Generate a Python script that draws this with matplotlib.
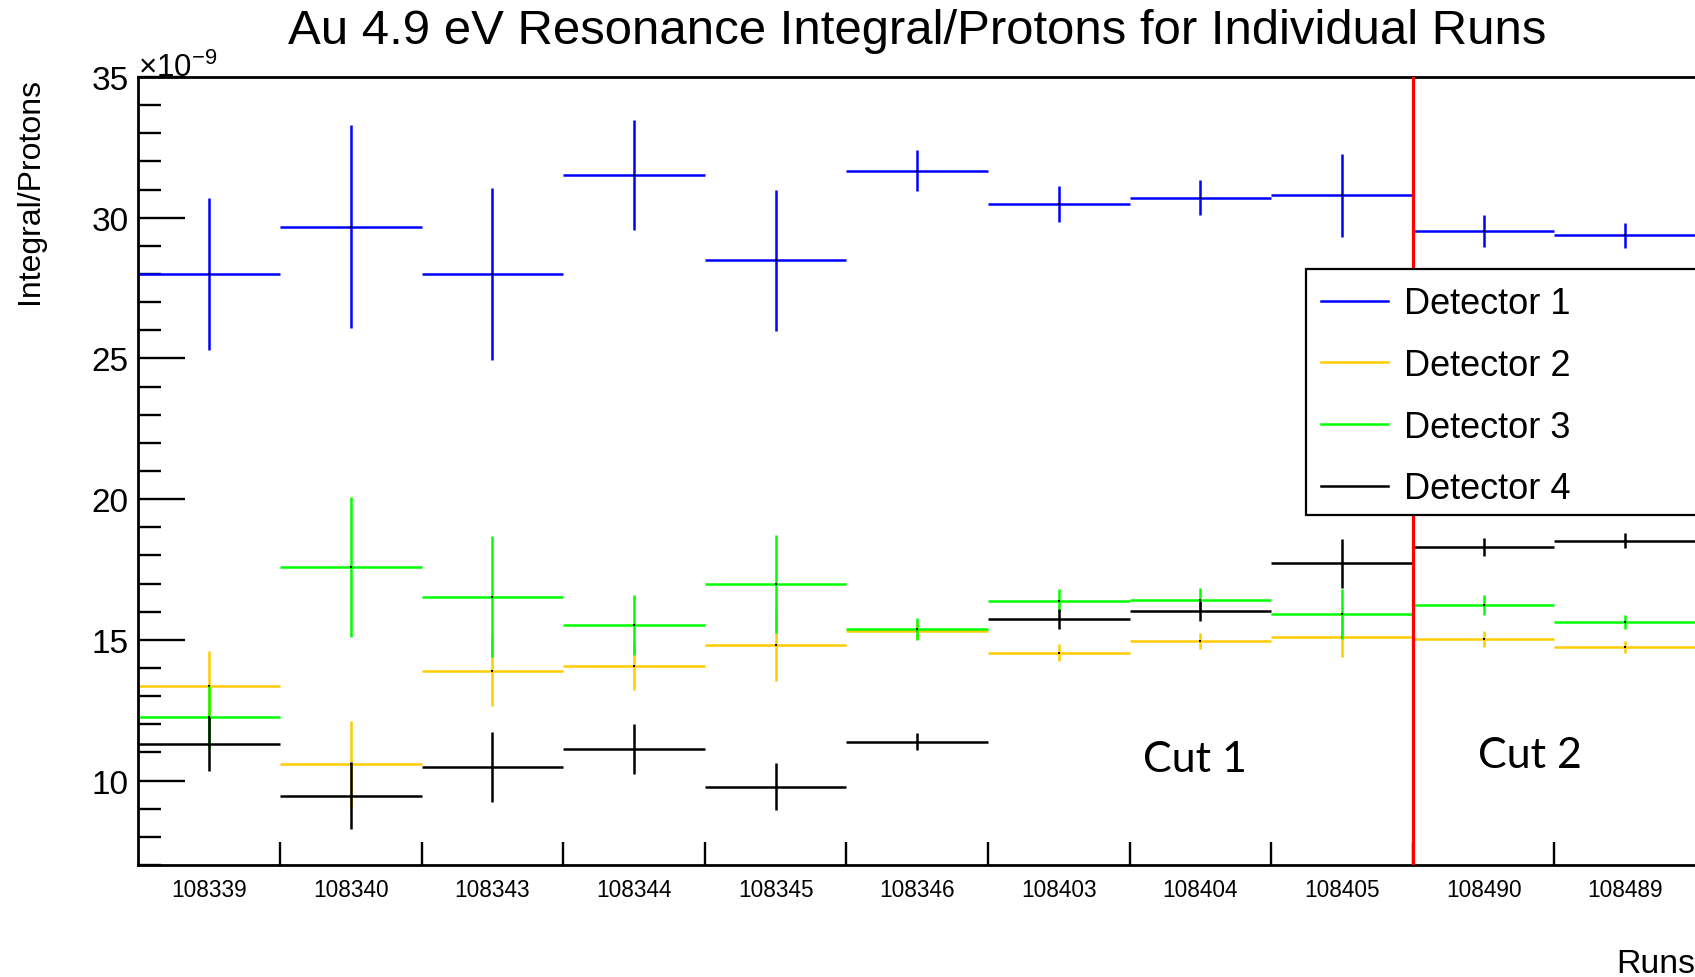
import matplotlib
matplotlib.use('Agg')
import matplotlib.pyplot as plt
from matplotlib.patches import Rectangle
from matplotlib.lines import Line2D
from matplotlib.ticker import FixedLocator, NullFormatter, FixedFormatter, MultipleLocator

plt.rcParams['font.family'] = ['Liberation Sans', 'DejaVu Sans']
plt.rcParams['mathtext.fontset'] = 'custom'
plt.rcParams['mathtext.rm'] = 'Liberation Sans'
plt.rcParams['mathtext.it'] = 'Liberation Sans:italic'
plt.rcParams['mathtext.bf'] = 'Liberation Sans:bold'

# ---- data (values in units of 1e-9) ----
runs = ['108339', '108340', '108343', '108344', '108345', '108346',
        '108403', '108404', '108405', '108490', '108489']
det1 = [28.0, 29.68, 28.0, 31.52, 28.49, 31.67, 30.48, 30.71, 30.79, 29.53, 29.37]
det1_err = [2.7, 3.6, 3.05, 1.95, 2.5, 0.73, 0.65, 0.63, 1.47, 0.58, 0.44]
det2 = [13.36, 10.58, 13.89, 14.07, 14.82, 15.33, 14.54, 14.95, 15.09, 15.02, 14.75]
det2_err = [1.24, 1.54, 1.24, 0.86, 1.29, 0.3, 0.3, 0.28, 0.71, 0.28, 0.2]
det3 = [12.26, 17.6, 16.54, 15.53, 16.99, 15.39, 16.39, 16.43, 15.92, 16.24, 15.62]
det3_err = [1.1, 2.49, 2.14, 1.06, 1.74, 0.38, 0.4, 0.4, 0.88, 0.36, 0.25]
det4 = [11.3, 9.46, 10.49, 11.13, 9.78, 11.38, 15.74, 16.03, 17.72, 18.3, 18.52]
det4_err = [0.95, 1.19, 1.25, 0.89, 0.84, 0.3, 0.34, 0.35, 0.88, 0.33, 0.27]
labels = ['Detector 1', 'Detector 2', 'Detector 3', 'Detector 4']
colors = ['#0000FF', '#FFCC00', '#00FF00', '#000000']
cut_edge = 9  # bin edge index where the cut changes
cut_labels = ['Cut 1', 'Cut 2']

W, H = 1695, 978
fig = plt.figure(figsize=(W / 100, H / 100), dpi=100)

def fx(x):
    return x / W

def fy(y):
    return 1 - y / H

ax_l, ax_r, ax_t, ax_b = 138.4, 1696.0, 78.0, 866.0
ax = fig.add_axes([fx(ax_l), fy(ax_b), fx(ax_r - ax_l), (ax_b - ax_t) / H])

n = len(runs)
centers = [i + 0.5 for i in range(n)]
series = [(det1, det1_err), (det2, det2_err), (det3, det3_err), (det4, det4_err)]
for (vals, errs), c in zip(series, colors):
    ax.errorbar(centers, vals, xerr=0.5, yerr=errs, fmt='none', ecolor=c,
                elinewidth=1.8, capsize=0)
    ax.plot(centers, vals, linestyle='none', marker='s', ms=1.7, color='k', mew=0)

ax.axvline(cut_edge, color='#FF0000', lw=2.3, zorder=3)

ax.set_xlim(0, n)
ax.set_ylim(7.0, 35.0)

# spines
for s in ['left', 'bottom', 'top']:
    ax.spines[s].set_linewidth(2.0)
ax.spines['right'].set_visible(False)

# y ticks
ax.yaxis.set_major_locator(FixedLocator([10, 15, 20, 25, 30, 35]))
ax.yaxis.set_minor_locator(MultipleLocator(1))
ax.tick_params(axis='y', which='major', direction='in', length=34, width=1.7,
               labelsize=24, pad=7)
ax.tick_params(axis='y', which='minor', direction='in', length=16.5, width=1.7)

# x ticks: marks at bin edges, labels at bin centres
ax.xaxis.set_major_locator(FixedLocator(list(range(1, n))))
ax.xaxis.set_major_formatter(NullFormatter())
ax.xaxis.set_minor_locator(FixedLocator(centers))
ax.xaxis.set_minor_formatter(FixedFormatter(runs))
ax.tick_params(axis='x', which='major', direction='in', length=16.5, width=1.7)
ax.tick_params(axis='x', which='minor', length=0, labelsize=16.3, pad=9.5)

# texts
fig.text(fx(917), fy(32), 'Au 4.9 eV Resonance Integral/Protons for Individual Runs',
         ha='center', va='center', fontsize=35.4)
fig.text(fx(30), fy(78), 'Integral/Protons', rotation=90, ha='center', va='top',
         fontsize=23)
fig.text(fx(1695), fy(965), 'Runs', ha='right', va='center', fontsize=24.4)
fig.text(fx(138), fy(77), r'$\times10^{-9}$', ha='left', va='baseline', fontsize=22.5)

ax.text(fx(1195), fy(760), cut_labels[0], transform=fig.transFigure, ha='center',
        va='center', fontsize=31, family=['Lato', 'DejaVu Sans'])
ax.text(fx(1530), fy(756), cut_labels[1], transform=fig.transFigure, ha='center',
        va='center', fontsize=31, family=['Lato', 'DejaVu Sans'])

# legend box (extends past the right edge like the reference)
rect = Rectangle((fx(1306), fy(516)), fx(1720 - 1306), (516 - 270) / H,
                 transform=fig.transFigure, facecolor='white', edgecolor='black',
                 lw=1.6, zorder=8, clip_on=False)
ax.add_patch(rect)
handles = [Line2D([], [], color=c, lw=1.8) for c in colors]
leg = ax.legend(handles, labels, loc='upper left',
                bbox_to_anchor=(fx(1306), fy(272)), bbox_transform=fig.transFigure,
                frameon=False, fontsize=26, handlelength=1.86, handletextpad=0.42,
                labelspacing=0.74, borderaxespad=0, borderpad=0.42)
leg.set_zorder(9)

fig.savefig('out.png', dpi=100)
